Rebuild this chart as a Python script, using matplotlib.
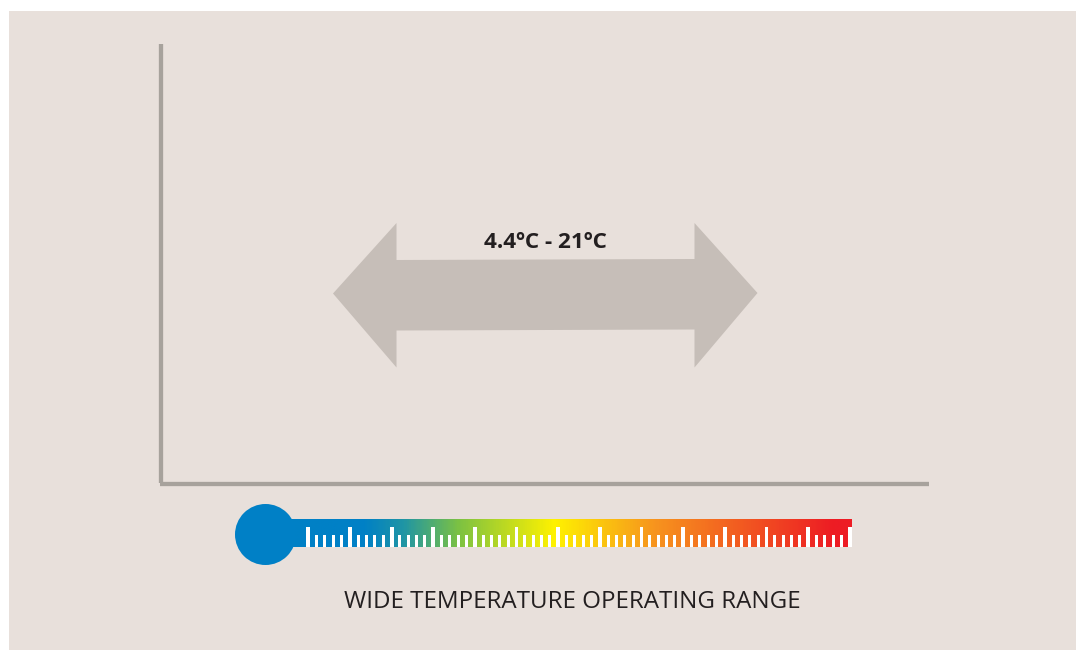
import numpy as np
from matplotlib import pyplot as plt
from matplotlib.colors import LinearSegmentedColormap
from matplotlib.patches import Circle, Polygon, Rectangle

range_label = "4.4ºC - 21ºC"
caption = "WIDE TEMPERATURE OPERATING RANGE"

# arrow outline, in picture pixels
arrow_x = [333, 396.5, 396.5, 694.5, 694.5, 757.5, 694.5, 694.5, 396.5, 396.5]
arrow_y = [293.5, 223, 260, 259, 223, 293, 367.5, 329.5, 330.5, 367.5]

# thermometer gradient
grad_pos = [0.0, 0.13, 0.2, 0.3, 0.47, 0.65, 0.97, 1.0]
grad_colors = ["#0080c6", "#0080c6", "#1f95a5", "#7dc242", "#fff200", "#f7941e", "#ed1c24", "#ed1c24"]

tick_count = 66
major_every = 5

bg = "#e8e0db"
axis_col = "#a7a29c"

fig = plt.figure(figsize=(10.76, 6.5), dpi=100, facecolor="white")
ax = fig.add_axes([0, 0, 1, 1])
ax.set_xlim(0, 1076)
ax.set_ylim(650, 0)
ax.axis("off")

ax.add_patch(Rectangle((9, 11), 1067, 639, fc=bg, ec="none", zorder=0))

# chart axes
ax.plot([161, 161], [44, 483], color=axis_col, lw=3.1, solid_capstyle="butt", zorder=1)
ax.plot([159.5, 928.5], [483.5, 483.5], color=axis_col, lw=3.1, solid_capstyle="butt", zorder=1)

ax.add_patch(Polygon(np.column_stack([arrow_x, arrow_y]), closed=True, fc="#c6beb8", ec="none", zorder=1))

ax.text(545.5, 242.5, range_label, ha="center", va="center", fontsize=16.2, fontweight="bold",
        family="Open Sans", color="#231f20", zorder=3)
ax.text(572, 602.5, caption, ha="center", va="center", fontsize=17.4, family="Open Sans",
        color="#231f20", zorder=3)

# thermometer
cmap = LinearSegmentedColormap.from_list("thermo", list(zip(grad_pos, grad_colors)))
grad = np.linspace(0, 1, 600).reshape(1, -1)
ax.imshow(grad, cmap=cmap, extent=[290, 852, 547, 519], aspect="auto", zorder=2, interpolation="bilinear")
ax.set_xlim(0, 1076)
ax.set_ylim(650, 0)
ax.add_patch(Circle((265.5, 534.5), 30.5, fc="#0080c6", ec="none", zorder=2))

for i in range(tick_count):
    x = 308.3 + i * 8.33
    if i % major_every == 0:
        ax.add_patch(Rectangle((x - 1.9, 527), 3.8, 20, fc="white", ec="none", zorder=3))
    else:
        ax.add_patch(Rectangle((x - 1.5, 535), 3, 12, fc="white", ec="none", zorder=3))

fig.savefig("out.png", dpi=100, facecolor="white")
